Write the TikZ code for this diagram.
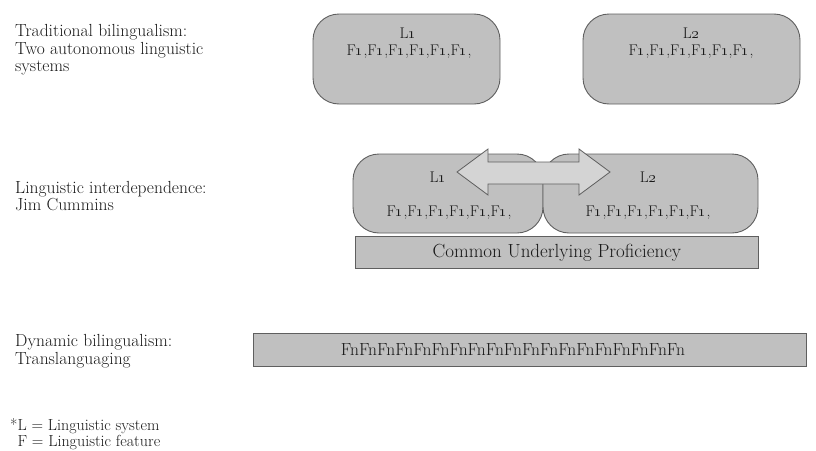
\RequirePackage{fix-cm}
\documentclass[tikz,border=0pt]{standalone}
\definecolor{boxgray}{RGB}{192,192,192}
\definecolor{edgegray}{RGB}{95,95,95}
\definecolor{arrowgray}{RGB}{212,212,212}
\definecolor{txt}{RGB}{25,25,25}
\newcommand{\Lone}{L\oldstylenums{1}}
\newcommand{\Ltwo}{L\oldstylenums{2}}
\newcommand{\Fs}{F\oldstylenums{1},F\oldstylenums{1},F\oldstylenums{1},F\oldstylenums{1},F\oldstylenums{1},F\oldstylenums{1},}
\tikzset{
  lbl/.style={anchor=west, align=left, inner sep=0pt, text=txt, font=\fontsize{17.5}{17.5}\selectfont},
  keylbl/.style={anchor=south west, align=left, inner sep=0pt, text=txt, font=\fontsize{16}{16}\selectfont},
  intext/.style={inner sep=0pt, text=txt, font=\fontsize{15.5}{17}\selectfont},
  rbox/.style={draw=edgegray, fill=boxgray, line width=0.9pt, rounded corners=26pt},
  sbox/.style={draw=edgegray, fill=boxgray, line width=0.9pt},
}
\begin{document}
\begin{tikzpicture}[x=1pt,y=-1pt]
\useasboundingbox (0,0) rectangle (816,450);
% left labels
\node[lbl] (trad) at (15,50) {Traditional bilingualism:\\Two autonomous linguistic\\systems};
\node[lbl] (inter) at (15,196) {Linguistic interdependence:\\Jim Cummins};
\node[lbl] (dyn) at (15,351) {Dynamic bilingualism:\\Translanguaging};
\node[keylbl] (key) at (10,450) {*L = Linguistic system\\\hphantom{*}F = Linguistic feature};
% top boxes
\draw[rbox] (313,14) rectangle (500,104);
\node[intext] (t1l) at (408,33) {\Lone};
\node[intext] (t1f) at (409,52) {\Fs};
\draw[rbox] (583,14) rectangle (800,104);
\node[intext] (t2l) at (691,33) {\Ltwo};
\node[intext] (t2f) at (691,52) {\Fs};
% middle
\draw[rbox] (353,154) rectangle (543,233);
\draw[rbox] (543,154) rectangle (758,233);
\node[intext] (m1l) at (438,177) {\Lone};
\node[intext] (m1f) at (449,213) {\Fs};
\node[intext] (m2l) at (648,177) {\Ltwo};
\node[intext] (m2f) at (648,213) {\Fs};
\draw[draw=edgegray, fill=arrowgray, line width=0.8pt]
  (457,172) -- (488,149) -- (488,162) -- (579,162) -- (579,149) -- (610,172)
  -- (579,195) -- (579,184) -- (488,184) -- (488,195) -- cycle;
\node[sbox, minimum width=403pt, minimum height=32pt, inner sep=0pt, anchor=north west, text=txt, font=\fontsize{19}{20}\selectfont] (cup) at (355,236) {Common Underlying Proficiency};
% bottom
\node[sbox, minimum width=553pt, minimum height=33pt, inner sep=0pt, anchor=north west] (dynbox) at (253,333) {};
\node[intext, font=\fontsize{17.5}{18}\selectfont] (fn) at (513,350) {FnFnFnFnFnFnFnFnFnFnFnFnFnFnFnFnFnFnFn};
\end{tikzpicture}
\end{document}
